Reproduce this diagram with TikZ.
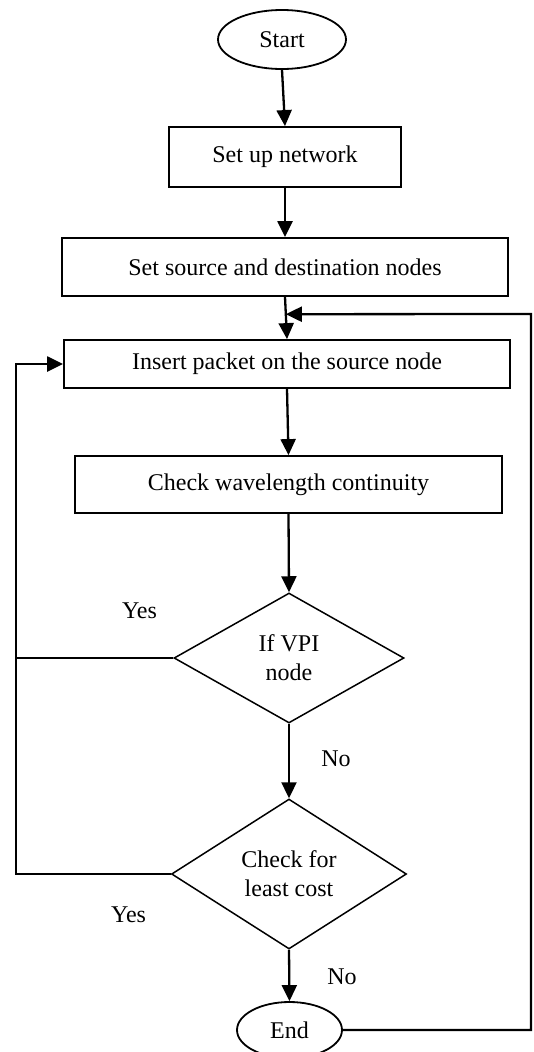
\documentclass[tikz,border=0pt]{standalone}
\usepackage{fontspec}
\setmainfont{Liberation Serif}
\usetikzlibrary{arrows.meta,shapes.geometric,calc}
\begin{document}
\begin{tikzpicture}[x=1pt,y=-1pt,
  font=\fontsize{24}{29}\selectfont,
  box/.style={draw,line width=1.8pt,rectangle,inner sep=0pt},
  oval/.style={draw,line width=1.8pt,ellipse,inner sep=0pt},
  decision/.style={draw,line width=1.5pt,diamond,aspect=1.77,inner sep=0pt,align=center},
  arr/.style={line width=2.3pt,-{Triangle[length=16pt,width=15pt]}},
  conn/.style={line width=2.3pt},
  lbl/.style={inner sep=0pt}]
\clip (0,0) rectangle (533,1052);
\fill[white] (0,0) rectangle (533,1052);

\node[oval,minimum width=128pt,minimum height=59pt] (start) at (282,39.5) {Start};
\node[box,minimum width=232pt,minimum height=60pt] (setup) at (285,157) {Set up network};
\node[box,minimum width=446pt,minimum height=58pt] (source) at (285,267) {Set source and destination nodes};
\node[box,minimum width=446pt,minimum height=48pt] (insert) at (287,364) {Insert packet on the source node};
\node[box,minimum width=427pt,minimum height=57pt] (check) at (288.5,484.5) {Check wavelength continuity};
\node[decision,minimum width=230pt,minimum height=130pt] (d1) at (289,658) {If VPI\\node};
\node[decision,minimum width=235pt,minimum height=150pt] (d2) at (289,874) {Check for\\least cost};
\node[oval,minimum width=105pt,minimum height=56pt] (end) at (289.5,1030) {End};

\node[lbl] (yes1) at (139.5,611) {Yes};
\node[lbl] (no1) at (336,759) {No};
\node[lbl] (yes2) at (128.6,915) {Yes};
\node[lbl] (no2) at (342,977) {No};

\coordinate (fb) at ($(source.south)!0.41!(insert.north)$);
\coordinate (fbr) at (531,314);
\coordinate (lb) at (16,874);
\coordinate (lm) at (16,658);

\draw[arr] (start.south) -- (setup.north);
\draw[arr] (setup.south) -- (source.north);
\draw[arr] (source.south) -- (insert.north);
\draw[arr] (insert.south) -- (check.north);
\draw[arr] (check.south) -- (d1.north);
\draw[arr] (d1.south) -- (d2.north);
\draw[arr] (d2.south) -- (end.north);
\draw[arr] (end.east) -| (fbr) -- (fb);
\draw[arr] (d2.west) -- (lb) |- (insert.west);
\draw[conn] (d1.west) -- (lm);
\end{tikzpicture}
\end{document}
